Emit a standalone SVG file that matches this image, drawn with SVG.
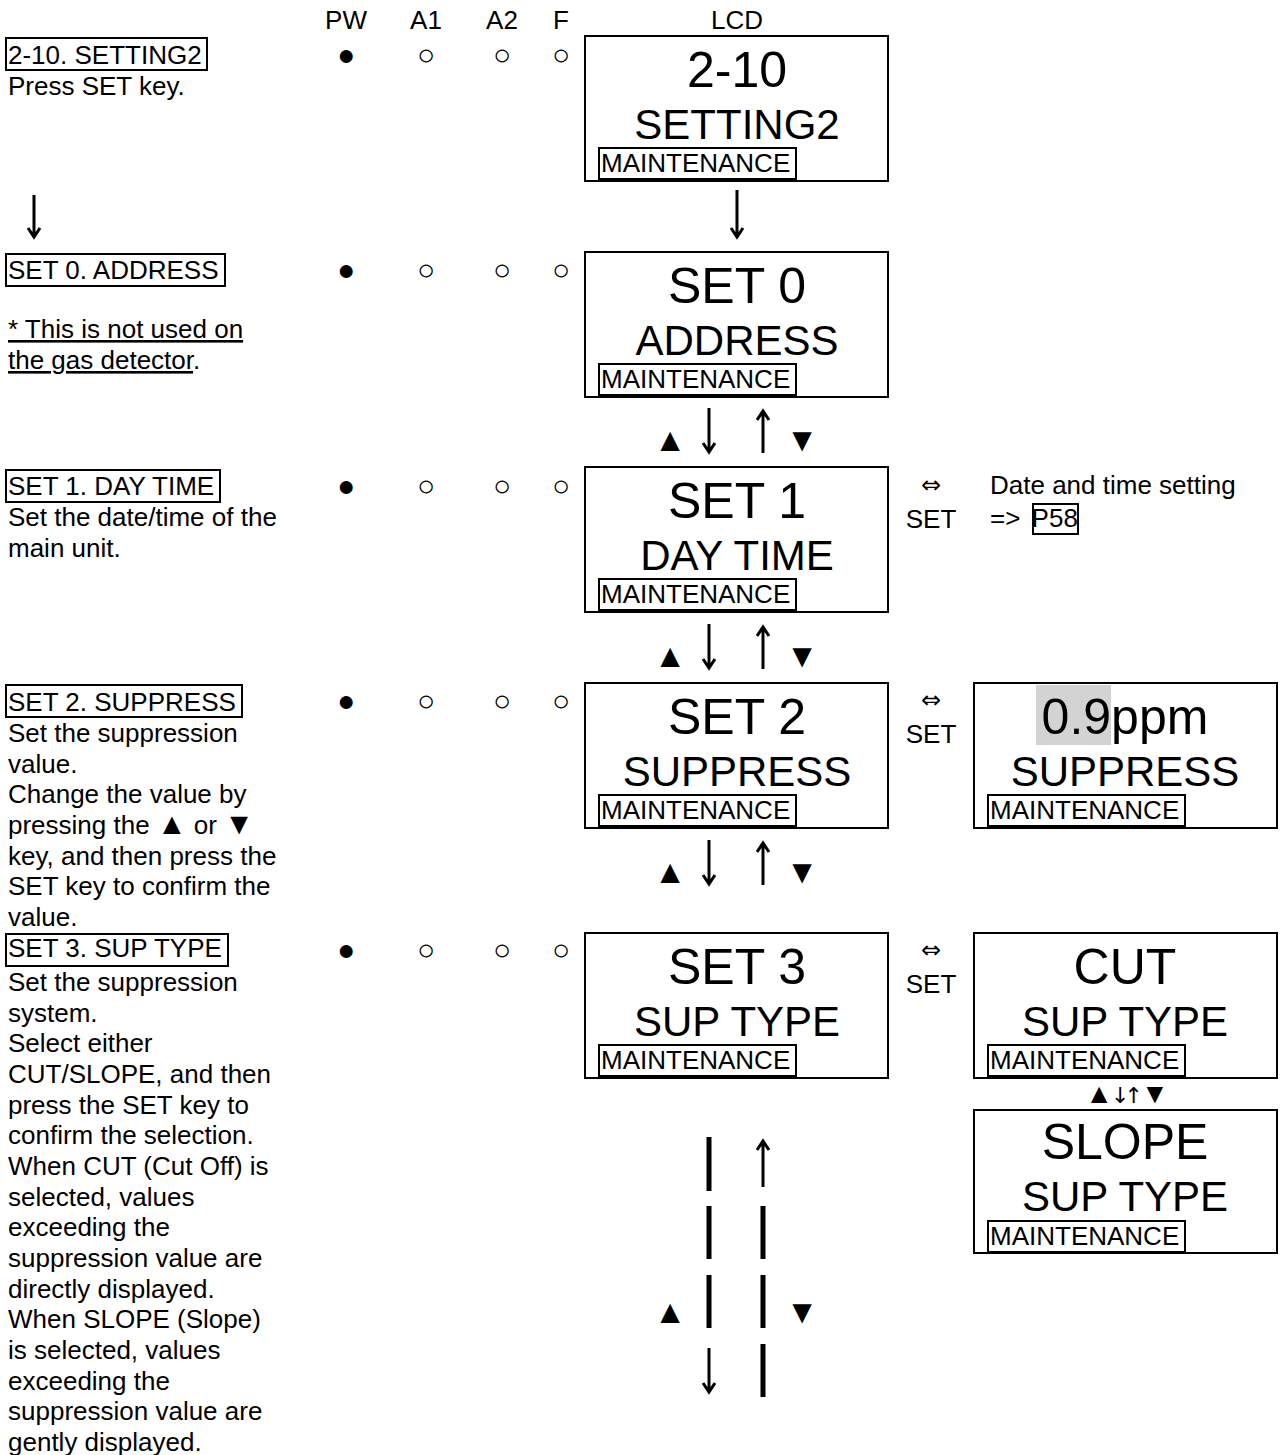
<svg xmlns="http://www.w3.org/2000/svg" width="1282" height="1455" viewBox="0 0 1282 1455">
<style>
text{font-family:"Liberation Sans",Arial,"DejaVu Sans",sans-serif;fill:#000}
.t{font-size:26px}
.c{text-anchor:middle}
.b1{font-size:50px;text-anchor:middle}
.b2{font-size:42px;text-anchor:middle}
.m{font-size:26px}
.box{fill:#fff;stroke:#000;stroke-width:2}
.lb{fill:none;stroke:#000;stroke-width:2}
.dot{font-size:30px;text-anchor:middle}
.tri{font-size:33px;text-anchor:middle}
.dj{font-family:"DejaVu Sans",sans-serif}
.eq{font-family:"DejaVu Sans",sans-serif;font-size:24px;text-anchor:middle}
.ar{stroke:#000;stroke-width:3;fill:none}
.seg{stroke:#000;stroke-width:5;fill:none}
.u{text-decoration:underline}
</style>
<rect width="1282" height="1455" fill="#fff"/>

<g id="header">
<text class="t c" x="346" y="29">PW</text>
<text class="t c" x="426" y="29">A1</text>
<text class="t c" x="502" y="29">A2</text>
<text class="t c" x="561" y="29">F</text>
<text class="t c" x="737" y="29">LCD</text>
</g>

<g id="leds">
<text class="dot" x="346" y="65">●</text><text class="dot" x="426" y="65">○</text><text class="dot" x="502" y="65">○</text><text class="dot" x="561" y="65">○</text>
<text class="dot" x="346" y="280">●</text><text class="dot" x="426" y="280">○</text><text class="dot" x="502" y="280">○</text><text class="dot" x="561" y="280">○</text>
<text class="dot" x="346" y="496">●</text><text class="dot" x="426" y="496">○</text><text class="dot" x="502" y="496">○</text><text class="dot" x="561" y="496">○</text>
<text class="dot" x="346" y="711">●</text><text class="dot" x="426" y="711">○</text><text class="dot" x="502" y="711">○</text><text class="dot" x="561" y="711">○</text>
<text class="dot" x="346" y="960">●</text><text class="dot" x="426" y="960">○</text><text class="dot" x="502" y="960">○</text><text class="dot" x="561" y="960">○</text>
</g>

<g id="desc-2-10">
<rect class="lb" x="6" y="38" width="201" height="32"/>
<text class="t" x="8" y="64">2-10. SETTING2</text>
<text class="t" x="8" y="95">Press SET key.</text>
</g>
<g id="desc-set0">
<rect class="lb" x="6" y="254" width="219" height="32"/>
<text class="t" x="8" y="279">SET 0. ADDRESS</text>
<text class="t" x="8" y="338"><tspan class="u">* This is not used on </tspan></text>
<text class="t" x="8" y="369"><tspan class="u">the gas detector</tspan>.</text>
</g>
<g id="desc-set1">
<rect class="lb" x="6" y="470" width="214" height="32"/>
<text class="t" x="8" y="495">SET 1. DAY TIME</text>
<text class="t" x="8" y="526">Set the date/time of the</text>
<text class="t" x="8" y="557">main unit.</text>
</g>
<g id="desc-set2">
<rect class="lb" x="6" y="685" width="236" height="32"/>
<text class="t" x="8" y="711">SET 2. SUPPRESS</text>
<text class="t" x="8" y="742">Set the suppression</text>
<text class="t" x="8" y="772.7">value.</text>
<text class="t" x="8" y="803.3">Change the value by</text>
<text class="t" x="8" y="834">pressing the <tspan font-size="30">▲</tspan> or <tspan font-size="30">▼</tspan></text>
<text class="t" x="8" y="864.7">key, and then press the</text>
<text class="t" x="8" y="895.3">SET key to confirm the</text>
<text class="t" x="8" y="926">value.</text>
</g>
<g id="desc-set3">
<rect class="lb" x="6" y="934" width="222" height="32"/>
<text class="t" x="8" y="957">SET 3. SUP TYPE</text>
<text class="t" x="8" y="991">Set the suppression</text>
<text class="t" x="8" y="1021.7">system.</text>
<text class="t" x="8" y="1052.3">Select either</text>
<text class="t" x="8" y="1083">CUT/SLOPE, and then</text>
<text class="t" x="8" y="1113.7">press the SET key to</text>
<text class="t" x="8" y="1144.3">confirm the selection.</text>
<text class="t" x="8" y="1175">When CUT (Cut Off) is</text>
<text class="t" x="8" y="1205.7">selected, values</text>
<text class="t" x="8" y="1236.3">exceeding the</text>
<text class="t" x="8" y="1267">suppression value are</text>
<text class="t" x="8" y="1297.7">directly displayed.</text>
<text class="t" x="8" y="1328.3">When SLOPE (Slope)</text>
<text class="t" x="8" y="1359">is selected, values</text>
<text class="t" x="8" y="1389.7">exceeding the</text>
<text class="t" x="8" y="1420.3">suppression value are</text>
<text class="t" x="8" y="1451">gently displayed.</text>
</g>

<g id="lcd-2-10">
<rect class="box" x="585" y="36" width="303" height="145"/>
<text class="b1" x="737" y="87">2-10</text>
<text class="b2" x="737" y="139">SETTING2</text>
<rect class="lb" x="599" y="148" width="197" height="31"/>
<text class="m" x="601" y="172">MAINTENANCE</text>
</g>
<g id="lcd-set0">
<rect class="box" x="585" y="252" width="303" height="145"/>
<text class="b1" x="737" y="303">SET 0</text>
<text class="b2" x="737" y="355">ADDRESS</text>
<rect class="lb" x="599" y="364" width="197" height="31"/>
<text class="m" x="601" y="388">MAINTENANCE</text>
</g>
<g id="lcd-set1">
<rect class="box" x="585" y="467" width="303" height="145"/>
<text class="b1" x="737" y="518">SET 1</text>
<text class="b2" x="737" y="570">DAY TIME</text>
<rect class="lb" x="599" y="579" width="197" height="31"/>
<text class="m" x="601" y="603">MAINTENANCE</text>
</g>
<g id="lcd-set2">
<rect class="box" x="585" y="683" width="303" height="145"/>
<text class="b1" x="737" y="734">SET 2</text>
<text class="b2" x="737" y="786">SUPPRESS</text>
<rect class="lb" x="599" y="795" width="197" height="31"/>
<text class="m" x="601" y="819">MAINTENANCE</text>
</g>
<g id="lcd-set3">
<rect class="box" x="585" y="933" width="303" height="145"/>
<text class="b1" x="737" y="984">SET 3</text>
<text class="b2" x="737" y="1036">SUP TYPE</text>
<rect class="lb" x="599" y="1045" width="197" height="31"/>
<text class="m" x="601" y="1069">MAINTENANCE</text>
</g>

<g id="set1-note">
<text class="eq" x="931" y="493">⇔</text>
<text class="t c" x="931" y="528">SET</text>
<text class="t" x="990" y="494">Date and time setting</text>
<text class="t" x="990" y="527">=&gt; <tspan dx="4">P58</tspan></text>
<rect class="lb" x="1033" y="504" width="45" height="30"/>
</g>
<g id="set2-note">
<text class="eq" x="931" y="708">⇔</text>
<text class="t c" x="931" y="743">SET</text>
</g>
<g id="set3-note">
<text class="eq" x="931" y="958">⇔</text>
<text class="t c" x="931" y="993">SET</text>
</g>

<g id="lcd-suppress-value">
<rect class="box" x="974" y="683" width="303" height="145"/>
<rect x="1036" y="685" width="75" height="60" fill="#d3d3d3"/>
<text class="b1" x="1125" y="734">0.9ppm</text>
<text class="b2" x="1125" y="786">SUPPRESS</text>
<rect class="lb" x="988" y="795" width="197" height="31"/>
<text class="m" x="990" y="819">MAINTENANCE</text>
</g>
<g id="lcd-cut">
<rect class="box" x="974" y="933" width="303" height="145"/>
<text class="b1" x="1125" y="984">CUT</text>
<text class="b2" x="1125" y="1036">SUP TYPE</text>
<rect class="lb" x="988" y="1045" width="197" height="31"/>
<text class="m" x="990" y="1069">MAINTENANCE</text>
</g>
<g id="lcd-slope">
<rect class="box" x="974" y="1110" width="303" height="143"/>
<text class="b1" x="1125" y="1159">SLOPE</text>
<text class="b2" x="1125" y="1211">SUP TYPE</text>
<rect class="lb" x="988" y="1221" width="197" height="31"/>
<text class="m" x="990" y="1245">MAINTENANCE</text>
</g>

<g id="connectors">
<path class="ar" d="M34 195V237M28 228L34 237L40 228"/>
<path class="ar" d="M737 190V237M731 228L737 237L743 228"/>

<path class="ar" d="M709 408V452M703 443L709 452L715 443"/>
<path class="ar" d="M763 453V411M757 420L763 411L769 420"/>
<text class="tri" x="670" y="451">▲</text>
<text class="tri" x="802" y="451">▼</text>

<path class="ar" d="M709 624V668M703 659L709 668L715 659"/>
<path class="ar" d="M763 669V627M757 636L763 627L769 636"/>
<text class="tri" x="670" y="667">▲</text>
<text class="tri" x="802" y="667">▼</text>

<path class="ar" d="M709 840V884M703 875L709 884L715 875"/>
<path class="ar" d="M763 885V843M757 852L763 843L769 852"/>
<text class="tri" x="670" y="883">▲</text>
<text class="tri" x="802" y="883">▼</text>

<path class="seg" d="M709 1137V1191M709 1206V1259M709 1275V1328"/>
<path class="ar" d="M709 1348V1392M703 1383L709 1392L715 1383"/>
<path class="ar" d="M763 1187V1141M757 1150L763 1141L769 1150"/>
<path class="seg" d="M763 1206V1259M763 1275V1328M763 1344V1397"/>
<text class="tri" x="670" y="1323">▲</text>
<text class="tri" x="802" y="1323">▼</text>

<text x="1126" y="1103" text-anchor="middle" font-size="28" letter-spacing="-2">▲<tspan class="dj" font-size="22" letter-spacing="-5">↓↑</tspan><tspan dx="3">▼</tspan></text>
</g>
</svg>
